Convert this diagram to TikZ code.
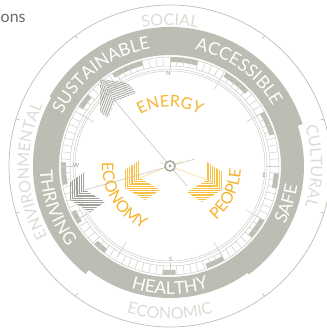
\documentclass[tikz,border=0pt]{standalone}
\usepackage{fontspec}
\setmainfont{Lato}
\usetikzlibrary{decorations.text}
\definecolor{bandgray}{RGB}{190,189,180}
\definecolor{ringgray}{RGB}{206,206,200}
\definecolor{outergray}{RGB}{190,190,183}
\definecolor{lightlab}{RGB}{220,220,214}
\definecolor{needlegray}{RGB}{192,192,186}
\definecolor{targetgray}{RGB}{165,165,158}
\definecolor{ylw}{RGB}{246,180,45}
\definecolor{ylwstripe}{RGB}{249,192,70}
\definecolor{chevgray}{RGB}{160,160,152}
\definecolor{txtgray}{RGB}{105,105,105}
\newcommand\outerfont{\fontsize{16}{16}\selectfont}
\newcommand\bandfont{\fontsize{17.5}{17.5}\selectfont}
\newcommand\yfont{\fontsize{16}{16}\selectfont}
\newcommand\chevronshape[1]{%
  \begin{scope}
    \clip (0,0)--(0,-18)--(15,-28)--(15,-10)--cycle;
    \foreach \s in {0.6,2.4,...,15.5} \draw[#1] (\s,-30)--(\s,2);
  \end{scope}
  \begin{scope}
    \clip (0,0)--(15,-10)--(35,2)--(20,12)--cycle;
    \foreach \s in {-10.4,-8.6,...,12.5} \draw[#1] (-1,\s)--(36,\s);
  \end{scope}}
\tikzset{
  outerline/.style={draw=outergray, line width=0.7pt},
  ringline/.style={draw=ringgray, line width=0.5pt},
  roseline/.style={draw=ringgray, line width=0.5pt},
  needle/.style={draw=needlegray, line width=0.5pt},
  yneedle/.style={draw=ylw!60, line width=0.5pt},
  ystripe/.style={draw=ylwstripe, line width=0.75pt},
  gstripe/.style={draw=chevgray, line width=0.65pt},
  compassletter/.style={inner sep=0, text=needlegray!80!black, font=\fontsize{6}{6}\selectfont},
  lab/.style n args={3}{decorate, decoration={text along path, text align=center, text color=#2, text={|#1|#3}}}
}
\begin{document}
\begin{tikzpicture}[x=1pt,y=1pt]
\useasboundingbox (-170,-165) rectangle (156,166);
\fill[white] (-170,-165) rectangle (156,166);
\node[anchor=base west, inner sep=0, text=txtgray, font=\fontsize{16}{16}\selectfont] (ons) at (-169.5,143) {ons};

% outer ring
\draw[outerline] (0,0) circle[radius=161];
\foreach \a in {126,54,17,-17,-54,-126,163,-163} \draw[outerline] (\a:161) -- (\a:157.5);

% outer labels
\path[lab={\outerfont}{lightlab}{SOCIAL}] (125:141) arc[start angle=125, end angle=55, radius=141];
\path[lab={\outerfont}{lightlab}{CULTURAL}] (35:141) arc[start angle=35, end angle=-35, radius=141];
\path[lab={\outerfont}{lightlab}{ENVIRONMENTAL}] (219:141) arc[start angle=219, end angle=145, radius=141];
\path[lab={\outerfont}{lightlab}{ECONOMIC}] (235:153) arc[start angle=235, end angle=305, radius=153];

% band
\fill[bandgray, even odd rule] (17.5:139) arc[start angle=17.5, end angle=150, radius=139]
  -- (150:137) arc[start angle=150, end angle=232, radius=137]
  -- (232:132) arc[start angle=232, end angle=306, radius=132]
  -- (306:134) arc[start angle=306, end angle=377.5, radius=134]
  -- cycle (0,0) circle[radius=111];

% band labels
\path[lab={\bandfont}{white}{SUSTAINABLE}] (165:119) arc[start angle=165, end angle=89, radius=119];
\path[lab={\bandfont}{white}{ACCESSIBLE}] (92:119) arc[start angle=92, end angle=16, radius=119];
\path[lab={\bandfont}{white}{HEALTHY}] (-125:128) arc[start angle=-125, end angle=-55, radius=128];
\path[lab={\bandfont}{white}{SAFE}] (-50:129) arc[start angle=-50, end angle=14, radius=129];
\path[lab={\bandfont}{white}{THRIVING}] (165:130) arc[start angle=165, end angle=235, radius=130];

% tick ring
\foreach \a/\b in {75/90, 44/59, 17/30, -12/-4, -41/-30, -70/-60, -94/-87, -134/-127, 105/122, 139/147, 178/190, 205/212}
  \fill[bandgray] (\a:104) arc[start angle=\a, end angle=\b, radius=104] -- (\b:109) arc[start angle=\b, end angle=\a, radius=109] -- cycle;
\draw[ringline] (0,0) circle[radius=109];
\draw[ringline] (0,0) circle[radius=100];
\foreach \a in {0,3.75,...,356.25} \draw[ringline] (\a:100) -- (\a:109);
\draw[ringline] (0,0) circle[radius=97];
\draw[ringline] (0,0) circle[radius=95];

% rose lines and letters
\foreach \a in {30,60,120,150,210,240,300,330} \draw[roseline] (\a:88) -- (\a:105);
\foreach \a in {0,90,180,270} \draw[roseline] (\a:97) -- (\a:104);
\node[compassletter] (nN) at (-1.5,93) {N};
\node[compassletter] (nS) at (0.7,-93) {S};
\node[compassletter] (nE) at (94,-9) {E};
\node[compassletter] (nW) at (-94,1) {W};

% needles and chevrons (image coordinates)
\begin{scope}[shift={(-170,166)}, yscale=-1]
  \coordinate (ctr) at (170,166);
  \coordinate (ulN) at (115,101);
  \coordinate (ulT) at (187,186);
  \coordinate (lN) at (85,190);
  \coordinate (lT) at (195,159);
  \coordinate (ecoN) at (140,178);
  \coordinate (ecoT) at (182,161);
  \coordinate (pplN) at (207,180);
  \coordinate (pplT) at (159,162);
  \draw[needle] (ulT) -- (ulN);
  \draw[needle] (lT) -- (lN);
  \draw[yneedle] (ecoT) -- (ecoN);
  \draw[yneedle] (pplT) -- (pplN);
  % upper-left gray chevron
  \begin{scope}
    \clip (100,79)--(128,83)--(136,93)--(115,101)--cycle;
    \foreach \s in {-4,-2.2,...,26} \draw[gstripe] (95,75+\s) -- (140,88.5+\s);
  \end{scope}
  \begin{scope}
    \clip (100,79)--(115,101)--(108,118)--(100,112)--cycle;
    \foreach \s in {-14,-12.2,...,22} \draw[gstripe] (95+\s,75) -- (108.5+\s,120);
  \end{scope}
  % left gray chevron
  \begin{scope}[shift={(70,200)}]
    \chevronshape{gstripe}
  \end{scope}
  % economy chevron
  \begin{scope}[shift={(125,188)}]
    \chevronshape{ystripe}
  \end{scope}
  % people chevron
  \begin{scope}[shift={(222,190)}, xscale=-1]
    \chevronshape{ystripe}
  \end{scope}
\end{scope}

% center target
\fill[white] (ctr) circle[radius=5];
\draw[targetgray, line width=1.5pt] (ctr) circle[radius=5];
\fill[targetgray] (ctr) circle[radius=1.6];

% yellow labels
\path[lab={\yfont}{ylw}{ENERGY}] (135:59) arc[start angle=135, end angle=45, radius=59];
\path[lab={\yfont}{ylw}{ECONOMY}] (162:68) arc[start angle=162, end angle=262, radius=68];
\path[lab={\yfont}{ylw}{PEOPLE}] (-76:71) arc[start angle=-76, end angle=24, radius=71];
\end{tikzpicture}
\end{document}
